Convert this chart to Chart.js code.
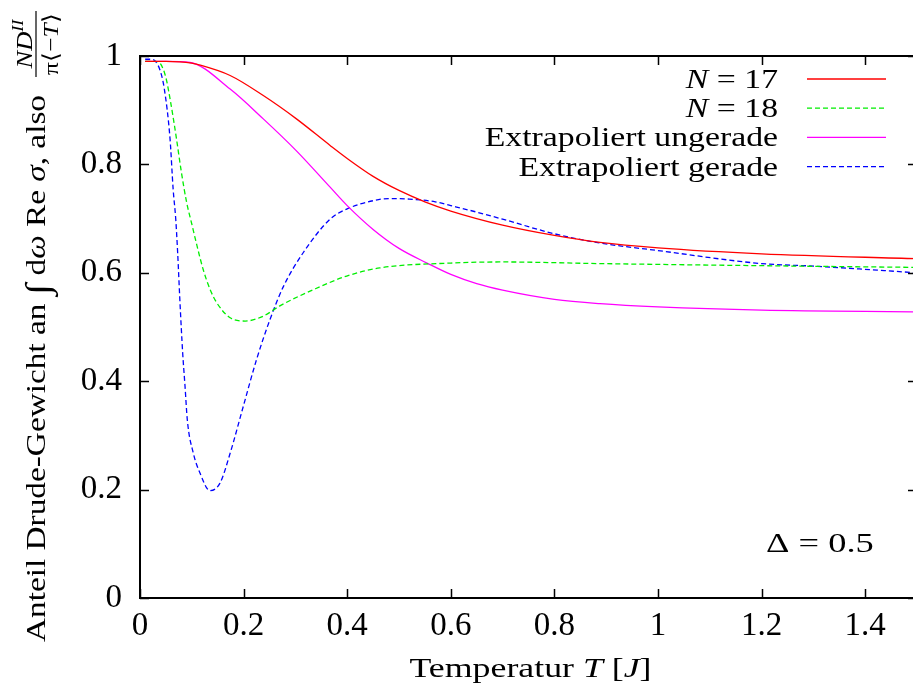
<!DOCTYPE html>
<html lang="de">
<head>
<meta charset="UTF-8">
<title>Drude-Gewicht</title>
<script src="https://cdn.jsdelivr.net/npm/chart.js"></script>
<style>
  html, body { margin: 0; padding: 0; background: #fff; overflow: hidden; }
  #wrap { width: 913px; height: 686px; overflow: hidden; }
</style>
</head>
<body>
<div id="wrap">
  <canvas id="plot" width="925" height="686"></canvas>
</div>
<script>
// Temperatur T [J] and Drude fraction for each series
const tN17 = [0.01, 0.05, 0.1, 0.109, 0.174, 0.238, 0.302, 0.367, 0.4, 0.45, 0.5, 0.55, 0.6, 0.7, 0.8, 0.888, 1.0, 1.2, 1.5];
const n17  = [0.99, 0.99, 0.987, 0.985, 0.964, 0.927, 0.884, 0.835, 0.811, 0.778, 0.752, 0.731, 0.714, 0.688, 0.669, 0.656, 0.646, 0.635, 0.626];

const tN18 = [0.01, 0.03, 0.04, 0.05, 0.06, 0.07, 0.08, 0.09, 0.1, 0.11, 0.122, 0.135, 0.148, 0.174, 0.203, 0.238, 0.27, 0.335, 0.399, 0.463, 0.6, 0.7, 0.888, 1.3, 1.5];
const n18  = [0.99, 0.99, 0.985, 0.96, 0.91, 0.85, 0.785, 0.73, 0.69, 0.65, 0.606, 0.57, 0.545, 0.517, 0.511, 0.52, 0.539, 0.569, 0.594, 0.609, 0.618, 0.62, 0.617, 0.612, 0.61];

const tUngerade = [0.01, 0.05, 0.0965, 0.174, 0.238, 0.302, 0.367, 0.4, 0.45, 0.5, 0.554, 0.6, 0.65, 0.7, 0.8, 0.888, 1.0, 1.2, 1.5];
const ungerade  = [0.99, 0.99, 0.988, 0.939, 0.884, 0.825, 0.758, 0.724, 0.68, 0.645, 0.618, 0.597, 0.58, 0.568, 0.551, 0.543, 0.537, 0.531, 0.528];

const tGerade = [0.01, 0.02, 0.03, 0.04, 0.047, 0.058, 0.064, 0.069, 0.0727, 0.0772, 0.0824, 0.0869, 0.0913, 0.103, 0.116, 0.135, 0.1544, 0.174, 0.1995, 0.225, 0.251, 0.277, 0.315, 0.367, 0.4, 0.45, 0.48, 0.52, 0.57, 0.6, 0.65, 0.7, 0.8, 0.888, 1.0, 1.2, 1.307, 1.5];
const gerade  = [0.994, 0.994, 0.99, 0.97, 0.939, 0.847, 0.754, 0.699, 0.637, 0.545, 0.452, 0.391, 0.329, 0.267, 0.23, 0.198, 0.212, 0.267, 0.354, 0.44, 0.514, 0.575, 0.637, 0.699, 0.718, 0.733, 0.737, 0.736, 0.731, 0.724, 0.712, 0.699, 0.672, 0.655, 0.641, 0.617, 0.612, 0.60];

const xTicks = [0, 0.2, 0.4, 0.6, 0.8, 1, 1.2, 1.4];
const yTicks = [0, 0.2, 0.4, 0.6, 0.8, 1];

const SERIF = '"Liberation Serif", "Times New Roman", serif';
const SX = 1.25;   // widen Times-like glyphs a bit

function pts(xs, ys) {
  return xs.map((x, i) => ({ x: x, y: ys[i] }));
}

// draw a list of text runs left to right, stretched horizontally by sx
function runsWidth(ctx, runs) {
  let w = 0;
  for (const r of runs) { ctx.font = r.f; w += ctx.measureText(r.t).width; }
  return w;
}
function drawRuns(ctx, runs, x, y, sx) {
  ctx.save();
  ctx.translate(x, y);
  ctx.scale(sx, 1);
  let u = 0;
  for (const r of runs) {
    ctx.font = r.f;
    ctx.fillText(r.t, u, r.dy || 0);
    u += ctx.measureText(r.t).width;
  }
  ctx.restore();
}

const rm = s => s + 'px ' + SERIF;
const it = s => 'italic ' + s + 'px ' + SERIF;
const tickText = v => String(Math.round(v * 10) / 10);

const series = [
  { label: [{ t: 'N', f: it(27) }, { t: ' = 17', f: rm(27) }], color: '#ff0000', dash: [] , x: tN17, y: n17 },
  { label: [{ t: 'N', f: it(27) }, { t: ' = 18', f: rm(27) }], color: '#00ee00', dash: [5, 3], x: tN18, y: n18 },
  { label: [{ t: 'Extrapoliert ungerade', f: rm(27) }], color: '#ff00ff', dash: [], x: tUngerade, y: ungerade },
  { label: [{ t: 'Extrapoliert gerade', f: rm(27) }], color: '#0000ff', dash: [5, 3], x: tGerade, y: gerade }
];

// frame, inward ticks, legend and axis titles
const decorations = {
  id: 'decorations',
  afterDraw(chart) {
    const ctx = chart.ctx;
    const a = chart.chartArea;
    const xs = chart.scales.x, ys = chart.scales.y;
    ctx.save();
    ctx.fillStyle = '#000';
    ctx.strokeStyle = '#000';

    // inward tick marks on all four sides
    ctx.lineWidth = 1.5;
    ctx.beginPath();
    for (const v of xTicks) {
      const px = Math.round(xs.getPixelForValue(v)) + 0.5;
      ctx.moveTo(px, a.bottom); ctx.lineTo(px, a.bottom - 9);
      ctx.moveTo(px, a.top); ctx.lineTo(px, a.top + 9);
    }
    for (const v of yTicks) {
      const py = Math.round(ys.getPixelForValue(v)) + 0.5;
      ctx.moveTo(a.left, py); ctx.lineTo(a.left + 9, py);
      ctx.moveTo(a.right, py); ctx.lineTo(a.right - 9, py);
    }
    ctx.stroke();

    ctx.lineWidth = 2;
    ctx.strokeRect(a.left, a.top, a.right - a.left, a.bottom - a.top);

    // legend, text right aligned next to a line sample
    ctx.textBaseline = 'alphabetic';
    series.forEach((s, i) => {
      const yRow = 79 + i * 29.2;
      const w = runsWidth(ctx, s.label) * SX;
      drawRuns(ctx, s.label, 778 - w, yRow + 9, SX);
      ctx.save();
      ctx.strokeStyle = s.color;
      ctx.lineWidth = 1.3;
      ctx.setLineDash(s.dash);
      ctx.beginPath();
      ctx.moveTo(807, yRow); ctx.lineTo(886, yRow);
      ctx.stroke();
      ctx.restore();
    });

    // Delta annotation
    drawRuns(ctx, [{ t: 'Δ = 0.5', f: rm(27) }], 766, 552, SX * 1.08);

    // x axis title
    const xt = [{ t: 'Temperatur ', f: rm(27) }, { t: 'T', f: it(27) }, { t: ' [', f: rm(27) }, { t: 'J', f: it(27) }, { t: ']', f: rm(27) }];
    const xsx = 242 / runsWidth(ctx, xt);
    drawRuns(ctx, xt, (a.left + a.right) / 2 - 121 + 2, 677, xsx);

    // y axis title, rotated, followed by the fraction N D^II / pi<-T>
    ctx.save();
    ctx.translate(45, 642);
    ctx.rotate(-Math.PI / 2);
    const yt = [
      { t: 'Anteil Drude-Gewicht an ', f: rm(27) },
      { t: '∫', f: rm(34), dy: 4 },
      { t: ' d', f: rm(27) },
      { t: 'ω', f: it(27) },
      { t: ' Re ', f: rm(27) },
      { t: 'σ', f: it(27) },
      { t: ', also', f: rm(27) }
    ];
    const ysx = 547 / runsWidth(ctx, yt);
    drawRuns(ctx, yt, 0, 0, ysx);

    const num = [{ t: 'ND', f: it(23) }, { t: 'II', f: it(16), dy: -9 }];
    const den = [{ t: 'π⟨−', f: rm(22) }, { t: 'T', f: it(22) }, { t: '⟩', f: rm(22) }];
    const cu = 598;
    const nw = runsWidth(ctx, num) * 1.15;
    const dw = runsWidth(ctx, den) * 1.15;
    drawRuns(ctx, num, cu - nw / 2, -13, 1.15);
    drawRuns(ctx, den, cu - dw / 2, 13, 1.15);
    ctx.lineWidth = 1.2;
    ctx.beginPath();
    ctx.moveTo(cu - 33, -9); ctx.lineTo(cu + 33, -9);
    ctx.stroke();
    ctx.restore();

    ctx.restore();
  }
};

new Chart(document.getElementById('plot'), {
  type: 'line',
  data: {
    datasets: series.map(s => ({
      data: pts(s.x, s.y),
      borderColor: s.color,
      borderWidth: 1.3,
      borderDash: s.dash,
      pointRadius: 0,
      fill: false,
      cubicInterpolationMode: 'monotone'
    }))
  },
  options: {
    responsive: false,
    animation: false,
    layout: { padding: { top: 56, right: 8, left: 0, bottom: 0 } },
    plugins: { legend: { display: false }, tooltip: { enabled: false } },
    scales: {
      x: {
        type: 'linear',
        min: 0,
        max: 1.5,
        afterBuildTicks: s => { s.ticks = xTicks.map(v => ({ value: v })); },
        afterFit: s => { s.height = 88; },
        grid: { display: false, drawTicks: false },
        border: { display: false },
        ticks: { color: '#000', padding: 9, maxRotation: 0, callback: tickText, font: { family: SERIF, size: 33 } }
      },
      y: {
        min: 0,
        max: 1,
        afterBuildTicks: s => { s.ticks = yTicks.map(v => ({ value: v })); },
        afterFit: s => { s.width = 140; },
        grid: { display: false, drawTicks: false },
        border: { display: false },
        ticks: { color: '#000', padding: 18, callback: tickText, font: { family: SERIF, size: 33 } }
      }
    }
  },
  plugins: [decorations]
});
</script>
</body>
</html>
